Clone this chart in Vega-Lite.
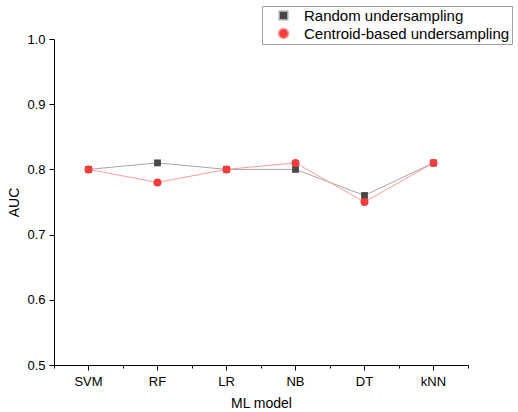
{
  "$schema": "https://vega.github.io/schema/vega-lite/v6.json",
  "width": 414,
  "height": 326,
  "autosize": "none",
  "padding": {"left": 54, "top": 39, "right": 50, "bottom": 47},
  "config": {
    "view": {"stroke": null},
    "font": "Liberation Sans",
    "axis": {
      "grid": false,
      "domainColor": "#000",
      "tickColor": "#000",
      "labelColor": "#000",
      "titleColor": "#000",
      "labelFont": "Liberation Sans",
      "titleFont": "Liberation Sans",
      "labelFontSize": 13,
      "titleFontSize": 14,
      "titleFontWeight": "normal"
    },
    "legend": {
      "orient": "none", "legendX": 208, "legendY": -33, "title": null, "direction": "vertical",
      "strokeColor": "#a0a0a0", "fillColor": "white", "padding": 2,
      "symbolSize": 100, "symbolOffset": 12, "labelOffset": 13,
      "labelFontSize": 15, "labelFont": "Liberation Sans", "labelColor": "#000",
      "rowPadding": 1, "labelLimit": 400
    }
  },
  "data": {
    "values": [
      {"model": "SVM", "method": "Random undersampling", "auc": 0.80},
      {"model": "RF", "method": "Random undersampling", "auc": 0.81},
      {"model": "LR", "method": "Random undersampling", "auc": 0.80},
      {"model": "NB", "method": "Random undersampling", "auc": 0.80},
      {"model": "DT", "method": "Random undersampling", "auc": 0.76},
      {"model": "kNN", "method": "Random undersampling", "auc": 0.81},
      {"model": "SVM", "method": "Centroid-based undersampling", "auc": 0.80},
      {"model": "RF", "method": "Centroid-based undersampling", "auc": 0.78},
      {"model": "LR", "method": "Centroid-based undersampling", "auc": 0.80},
      {"model": "NB", "method": "Centroid-based undersampling", "auc": 0.81},
      {"model": "DT", "method": "Centroid-based undersampling", "auc": 0.75},
      {"model": "kNN", "method": "Centroid-based undersampling", "auc": 0.81}
    ]
  },
  "layer": [
    {
      "mark": {"type": "line", "strokeWidth": 1},
      "encoding": {
        "x": {
          "field": "model", "type": "nominal",
          "sort": ["SVM", "RF", "LR", "NB", "DT", "kNN"],
          "scale": {"type": "band", "paddingInner": 0, "paddingOuter": 0},
          "axis": {"title": "ML model", "labelAngle": 0, "tickSize": 5, "labelPadding": 5, "titlePadding": 8}
        },
        "y": {
          "field": "auc", "type": "quantitative",
          "scale": {"domain": [0.5, 1.0]},
          "axis": {
            "title": "AUC",
            "values": [0.5, 0.55, 0.6, 0.65, 0.7, 0.75, 0.8, 0.85, 0.9, 0.95, 1.0],
            "labelExpr": "abs(datum.value * 10 - round(datum.value * 10)) < 0.01 ? format(datum.value, '.1f') : ''",
            "tickSize": {"condition": {"test": "abs(datum.value * 10 - round(datum.value * 10)) < 0.01", "value": 5}, "value": 3},
            "labelPadding": 4, "titlePadding": 5
          }
        },
        "stroke": {
          "field": "method", "type": "nominal",
          "scale": {"domain": ["Random undersampling", "Centroid-based undersampling"], "range": ["#a6a6a6", "#ff9c9c"]}
        }
      }
    },
    {
      "mark": {"type": "point", "filled": true, "opacity": 1, "size": 64},
      "encoding": {
        "x": {
          "field": "model", "type": "nominal",
          "sort": ["SVM", "RF", "LR", "NB", "DT", "kNN"],
          "axis": {"orient": "bottom", "tickBand": "extent", "labels": false, "title": null, "tickSize": 3, "domain": false}
        },
        "y": {"field": "auc", "type": "quantitative"},
        "fill": {
          "field": "method", "type": "nominal",
          "scale": {"domain": ["Random undersampling", "Centroid-based undersampling"], "range": ["#474747", "#f53c3c"]}
        },
        "shape": {
          "field": "method", "type": "nominal",
          "scale": {"domain": ["Random undersampling", "Centroid-based undersampling"], "range": ["M-0.85,-0.85H0.85V0.85H-0.85Z", "circle"]}
        }
      }
    }
  ],
  "resolve": {"axis": {"x": "independent"}}
}
